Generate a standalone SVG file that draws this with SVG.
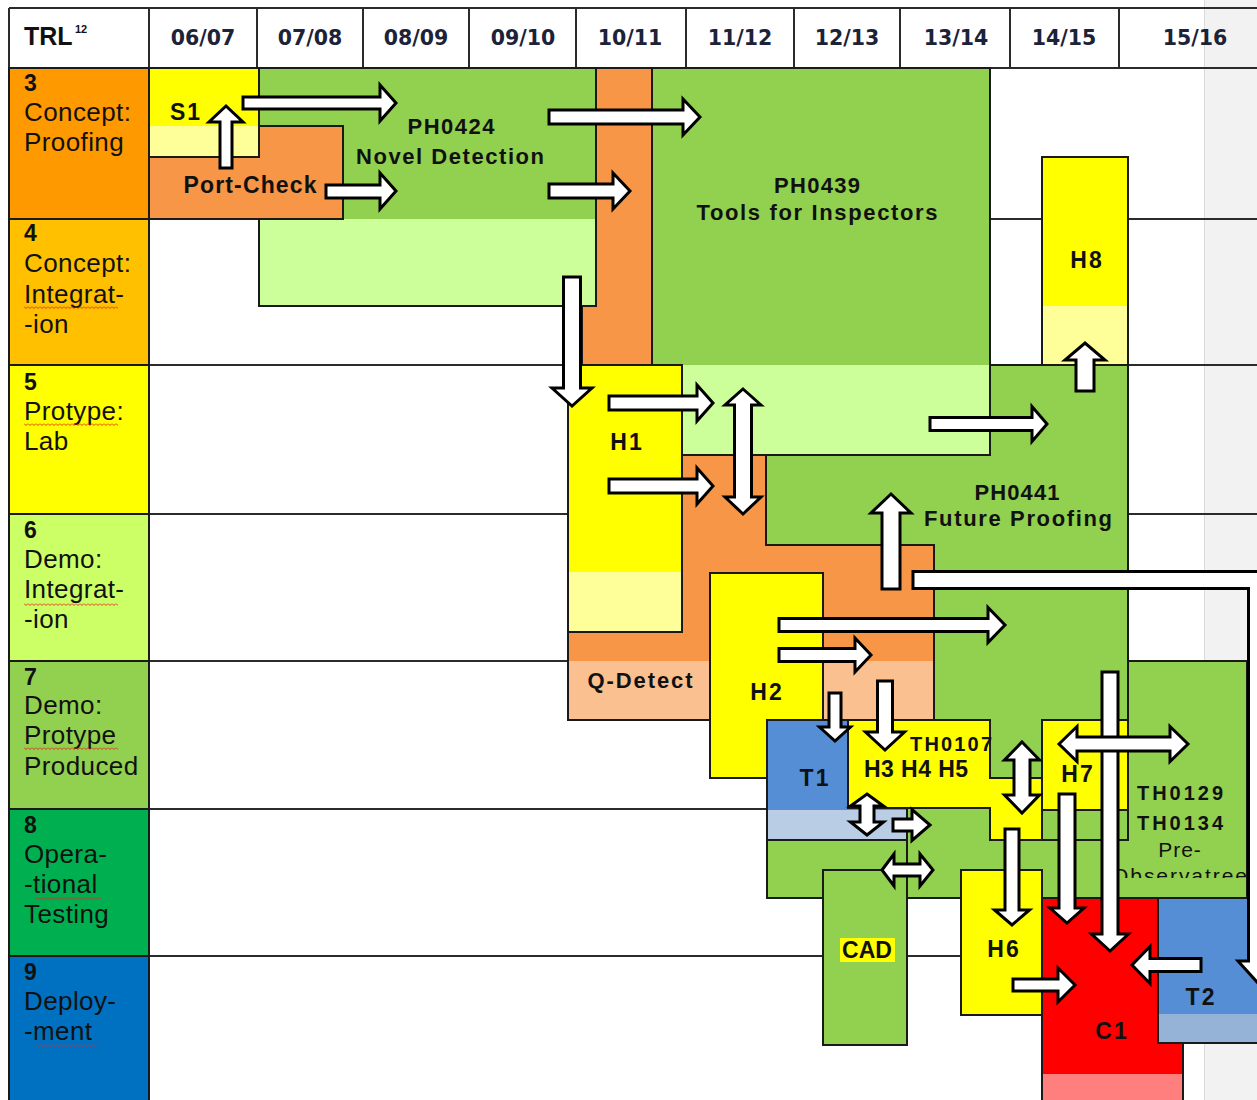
<svg xmlns="http://www.w3.org/2000/svg" width="1257" height="1100" viewBox="0 0 1257 1100">
<defs>
<style>
.grid{stroke:#2b2b2b;stroke-width:2;fill:none}
.box{stroke:#1a1a1a;stroke-width:2}
.edge{stroke:#1a1a1a;stroke-width:2;fill:none}
.trl{font-family:"Liberation Sans",Arial,sans-serif;font-size:26px;fill:#111;letter-spacing:0.4px}
.num{font-weight:bold;font-size:23px}
.yr{font-family:"DejaVu Sans",Verdana,sans-serif;font-weight:bold;font-size:20.5px;fill:#1c2238;text-anchor:middle}
.lbl{font-family:"Liberation Sans",Arial,sans-serif;font-weight:bold;font-size:22px;fill:#111;text-anchor:middle}
.big{font-size:23px;letter-spacing:2px}
.sm{font-size:20px}
.reg{font-weight:normal;font-size:21px;letter-spacing:1px}
.arrow{fill:#fff;stroke:#000;stroke-width:3;stroke-linejoin:miter}
.sq{fill:url(#squiggle)}
</style>
<pattern id="squiggle" width="4" height="3" patternUnits="userSpaceOnUse">
  <path d="M0,0.5 L2,2.5 L4,0.5" fill="none" stroke="#e8231d" stroke-width="0.9"/>
</pattern>
<clipPath id="obsClip"><rect x="1108" y="860" width="138" height="18"/></clipPath>
</defs>

<!-- page background and margin strip -->
<rect x="0" y="0" width="1257" height="1100" fill="#ffffff"/>
<rect x="1204" y="0" width="53" height="1100" fill="#f2f2f2"/>
<line x1="1204.5" y1="0" x2="1204.5" y2="1100" stroke="#dadada" stroke-width="1"/>

<!-- table grid -->
<g id="grid" class="grid">
  <path d="M9,8 H1257 M9,68 H1257"/>
  <path d="M149,219 H1257 M149,365 H1257 M149,514 H1257 M149,661 H1257 M149,809 H1257 M149,956 H1257"/>
  <path d="M9,8 V1100 M149,8 V1100"/>
  <path d="M257,8 V68 M363,8 V68 M469,8 V68 M576,8 V68 M686,8 V68 M794,8 V68 M900,8 V68 M1010,8 V68 M1119,8 V68"/>
</g>

<!-- header row -->
<g id="header">
  <text class="lbl" x="24" y="45" style="text-anchor:start;font-size:25px">TRL</text>
  <text class="lbl" x="75" y="33" style="text-anchor:start;font-size:11px">12</text>
  <text class="yr" x="203" y="45">06/07</text>
  <text class="yr" x="310" y="45">07/08</text>
  <text class="yr" x="416" y="45">08/09</text>
  <text class="yr" x="523" y="45">09/10</text>
  <text class="yr" x="630" y="45">10/11</text>
  <text class="yr" x="740" y="45">11/12</text>
  <text class="yr" x="847" y="45">12/13</text>
  <text class="yr" x="956" y="45">13/14</text>
  <text class="yr" x="1064" y="45">14/15</text>
  <text class="yr" x="1195" y="45">15/16</text>
</g>

<!-- TRL level column -->
<g id="trl-levels">
  <rect class="box" x="9" y="68" width="140" height="151" fill="#ff9900"/>
  <rect class="box" x="9" y="219" width="140" height="146" fill="#ffc000"/>
  <rect class="box" x="9" y="365" width="140" height="149" fill="#ffff00"/>
  <rect class="box" x="9" y="514" width="140" height="147" fill="#ccff66"/>
  <rect class="box" x="9" y="661" width="140" height="148" fill="#92d050"/>
  <rect class="box" x="9" y="809" width="140" height="147" fill="#00b050"/>
  <rect class="box" x="9" y="956" width="140" height="150" fill="#0070c0"/>
  <g class="trl">
    <text x="24" y="91" class="num">3</text>
    <text x="24" y="121">Concept:</text>
    <text x="24" y="151">Proofing</text>
    <text x="24" y="241" class="num">4</text>
    <text x="24" y="272">Concept:</text>
    <text x="24" y="303">Integrat-</text>
    <text x="24" y="333">-ion</text>
    <text x="24" y="390" class="num">5</text>
    <text x="24" y="420">Protype:</text>
    <text x="24" y="450">Lab</text>
    <text x="24" y="538" class="num">6</text>
    <text x="24" y="568">Demo:</text>
    <text x="24" y="598">Integrat-</text>
    <text x="24" y="628">-ion</text>
    <text x="24" y="685" class="num">7</text>
    <text x="24" y="714">Demo:</text>
    <text x="24" y="744">Protype</text>
    <text x="24" y="775">Produced</text>
    <text x="24" y="833" class="num">8</text>
    <text x="24" y="863">Opera-</text>
    <text x="24" y="893">-tional</text>
    <text x="24" y="923">Testing</text>
    <text x="24" y="980" class="num">9</text>
    <text x="24" y="1010">Deploy-</text>
    <text x="24" y="1040">-ment</text>
  </g>
  <!-- spell-check underlines -->
  <rect class="sq" x="24" y="306" width="94" height="3"/>
  <rect class="sq" x="24" y="423" width="94" height="3"/>
  <rect class="sq" x="24" y="603" width="94" height="3"/>
  <rect class="sq" x="24" y="747" width="94" height="3"/>
  <rect class="sq" x="35" y="897" width="66" height="3"/>
  <rect class="sq" x="35" y="1044" width="62" height="3"/>
</g>

<!-- PH0441 / TH0129 green base -->
<g id="ph0441">
  <polygon class="box" fill="#92d050" points="766,365 1128,365 1128,661 1247,661 1247,898 767,898 767,720 934,720 934,545 766,545"/>
  <text class="lbl" x="1017" y="500" textLength="85">PH0441</text>
  <text class="lbl" x="1018" y="526" textLength="188">Future Proofing</text>
</g>
<g id="th0129">
  <line class="edge" x1="1128" y1="661" x2="1128" y2="840"/>
  <line class="edge" x1="907" y1="808" x2="907" y2="870"/>
  <text class="lbl sm" x="1180" y="800" textLength="86">TH0129</text>
  <text class="lbl sm" x="1180" y="830" textLength="86">TH0134</text>
  <text class="lbl reg" x="1180" y="857">Pre-</text>
  <text class="lbl reg" x="1180" y="883" clip-path="url(#obsClip)" textLength="136">Observatree</text>
</g>

<!-- Q-Detect -->
<g id="q-detect">
  <polygon fill="#f79646" points="582,68 652,68 652,455 766,455 766,545 934,545 934,720 568,720 568,365 582,365"/>
  <rect x="568" y="661" width="366" height="59" fill="#fac090"/>
  <polygon class="edge" points="582,68 652,68 652,455 766,455 766,545 934,545 934,720 568,720 568,365 582,365"/>
  <text class="lbl" x="640" y="688" textLength="105">Q-Detect</text>
</g>

<!-- PH0424 -->
<g id="ph0424">
  <rect x="259" y="68" width="337" height="151" fill="#92d050"/>
  <rect x="259" y="219" width="337" height="87" fill="#ccff99"/>
  <rect class="edge" x="259" y="68" width="337" height="238"/>
  <text class="lbl" x="451" y="134" textLength="87">PH0424</text>
  <text class="lbl" x="450" y="164" textLength="188">Novel Detection</text>
</g>

<!-- Port-Check -->
<g id="port-check">
  <rect class="box" x="149" y="126" width="194" height="93" fill="#f79646"/>
  <text class="lbl" x="250" y="193" style="font-size:23px" textLength="133">Port-Check</text>
</g>

<!-- S1 -->
<g id="s1">
  <rect x="149" y="68" width="110" height="58" fill="#ffff00"/>
  <rect x="149" y="126" width="110" height="31" fill="#ffff99"/>
  <rect class="edge" x="149" y="68" width="110" height="89"/>
  <text class="lbl big" x="186" y="120">S1</text>
</g>

<!-- PH0439 -->
<g id="ph0439">
  <rect x="652" y="68" width="338" height="297" fill="#92d050"/>
  <rect x="652" y="365" width="338" height="90" fill="#ccff99"/>
  <rect class="edge" x="652" y="68" width="338" height="387"/>
  <text class="lbl" x="817" y="193" textLength="86">PH0439</text>
  <text class="lbl" x="817" y="220" textLength="241">Tools for Inspectors</text>
</g>

<!-- H1 -->
<g id="h1">
  <rect x="568" y="365" width="114" height="207" fill="#ffff00"/>
  <rect x="568" y="572" width="114" height="60" fill="#ffff99"/>
  <rect class="edge" x="568" y="365" width="114" height="267"/>
  <text class="lbl big" x="627" y="450">H1</text>
</g>

<!-- H8 -->
<g id="h8">
  <rect x="1042" y="157" width="86" height="149" fill="#ffff00"/>
  <rect x="1042" y="306" width="86" height="59" fill="#ffff99"/>
  <rect class="edge" x="1042" y="157" width="86" height="208"/>
  <text class="lbl big" x="1087" y="268">H8</text>
</g>

<!-- H2 -->
<g id="h2">
  <rect class="box" x="710" y="573" width="113" height="205" fill="#ffff00"/>
  <text class="lbl big" x="767" y="700">H2</text>
</g>

<!-- T1 -->
<g id="t1">
  <rect x="767" y="720" width="140" height="90" fill="#558ed5"/>
  <rect x="767" y="810" width="140" height="30" fill="#b9cde5"/>
  <rect class="edge" x="767" y="720" width="140" height="120"/>
  <text class="lbl big" x="815" y="786">T1</text>
</g>

<!-- TH0107 -->
<g id="th0107">
  <polygon class="box" fill="#ffff00" points="848,720 990,720 990,778 1042,778 1042,840 990,840 990,808 848,808"/>
  <text class="lbl sm" x="951" y="751" textLength="82">TH0107</text>
  <text class="lbl" x="916" y="777" style="font-size:23px" textLength="104">H3 H4 H5</text>
</g>

<!-- H7 -->
<g id="h7">
  <rect class="box" x="1042" y="720" width="86" height="90" fill="#ffff00"/>
  <rect class="box" x="1042" y="810" width="86" height="30" fill="#92d050"/>
  <text class="lbl big" x="1078" y="782">H7</text>
</g>

<!-- CAD -->
<g id="cad">
  <rect class="box" x="823" y="870" width="84" height="175" fill="#92d050"/>
  <rect x="840" y="938" width="55" height="24" fill="#ffff00"/>
  <text class="lbl" x="867" y="958" style="font-size:23px">CAD</text>
</g>

<!-- H6 -->
<g id="h6">
  <rect class="box" x="961" y="870" width="81" height="145" fill="#ffff00"/>
  <text class="lbl big" x="1004" y="957">H6</text>
</g>

<!-- C1 -->
<g id="c1">
  <rect x="1042" y="898" width="141" height="176" fill="#ff0000"/>
  <rect x="1042" y="1074" width="141" height="30" fill="#ff7f7f"/>
  <rect class="edge" x="1042" y="898" width="141" height="210"/>
  <text class="lbl big" x="1112" y="1039">C1</text>
</g>

<!-- T2 -->
<g id="t2">
  <rect x="1158" y="898" width="110" height="116" fill="#558ed5"/>
  <rect x="1158" y="1014" width="110" height="29" fill="#95b3d7"/>
  <rect class="edge" x="1158" y="898" width="110" height="145"/>
  <text class="lbl big" x="1201" y="1005">T2</text>
</g>

<!-- block arrows between projects -->
<g id="connectors" class="arrow">
  <path d="M220,168 L220,122 L209,122 L226,106 L243,122 L232,122 L232,168 Z"/>
  <path d="M243,97 L380,97 L380,85 L396,103 L380,121 L380,109 L243,109 Z"/>
  <path d="M326,185 L380,185 L380,173 L396,191 L380,209 L380,198 L326,198 Z"/>
  <path d="M549,110 L683,110 L683,99 L700,117 L683,135 L683,124 L549,124 Z"/>
  <path d="M549,184 L613,184 L613,173 L630,191 L613,209 L613,198 L549,198 Z"/>
  <path d="M563.5,277 L580.5,277 L580.5,388 L592,388 L572,406 L552,388 L563.5,388 Z"/>
  <path d="M609,396 L697,396 L697,385 L713,403 L697,421 L697,410 L609,410 Z"/>
  <path d="M609,479 L697,479 L697,468 L713,486 L697,504 L697,493 L609,493 Z"/>
  <path d="M743,389 L761,405 L751.5,405 L751.5,497 L761,497 L743,514 L725,497 L734.5,497 L734.5,405 L725,405 Z"/>
  <path d="M882,589 L882,513 L871,513 L891,494 L911,513 L900,513 L900,589 Z"/>
  <path d="M913,571.5 H1266 V961 H1276 L1257,982 L1238,961 H1248.5 V588.5 H913 Z"/>
  <path d="M1076,391 L1076,360 L1065,360 L1085,343 L1105,360 L1094,360 L1094,391 Z"/>
  <path d="M930,417.5 L1032,417.5 L1032,406.5 L1047,424 L1032,441.5 L1032,430.5 L930,430.5 Z"/>
  <path d="M779,618.5 L988,618.5 L988,607.5 L1005,625 L988,642.5 L988,631.5 L779,631.5 Z"/>
  <path d="M779,648.5 L855,648.5 L855,638 L871,655 L855,672 L855,661.5 L779,661.5 Z"/>
  <path d="M829,693 L841,693 L841,727 L850.5,727 L835,741 L819.5,727 L829,727 Z"/>
  <path d="M877.5,681 L892.5,681 L892.5,732 L904.5,732 L885,750 L865.5,732 L877.5,732 Z"/>
  <path d="M867,794 L883.5,806 L874,806 L874,822 L883.5,822 L867,835 L850.5,822 L860,822 L860,806 L850.5,806 Z"/>
  <path d="M893,819 L912,819 L912,809.5 L930,825 L912,840.5 L912,831 L893,831 Z"/>
  <path d="M882,870 L894,854 L894,864 L920,864 L920,854 L933,870 L920,886 L920,876 L894,876 L894,886 Z"/>
  <path d="M1022,742 L1039.5,760 L1030,760 L1030,795 L1039.5,795 L1022,813 L1004.5,795 L1014,795 L1014,760 L1004.5,760 Z"/>
  <path d="M1102,672 L1118,672 L1118,934 L1128.5,934 L1110,951 L1091.5,934 L1102,934 Z"/>
  <path d="M1059,744 L1077,726.5 L1077,737 L1170,737 L1170,726.5 L1188,744 L1170,761.5 L1170,751 L1077,751 L1077,761.5 Z"/>
  <path d="M1059,794 L1075,794 L1075,908 L1084,908 L1067,923 L1050,908 L1059,908 Z"/>
  <path d="M1005,829 L1019,829 L1019,910 L1029.5,910 L1012,925 L994.5,910 L1005,910 Z"/>
  <path d="M1013,979 L1058,979 L1058,968 L1075,985 L1058,1002 L1058,991 L1013,991 Z"/>
  <path d="M1201,958.5 L1150,958.5 L1150,946.5 L1132,965 L1150,983.5 L1150,971.5 L1201,971.5 Z"/>
</g>
</svg>
